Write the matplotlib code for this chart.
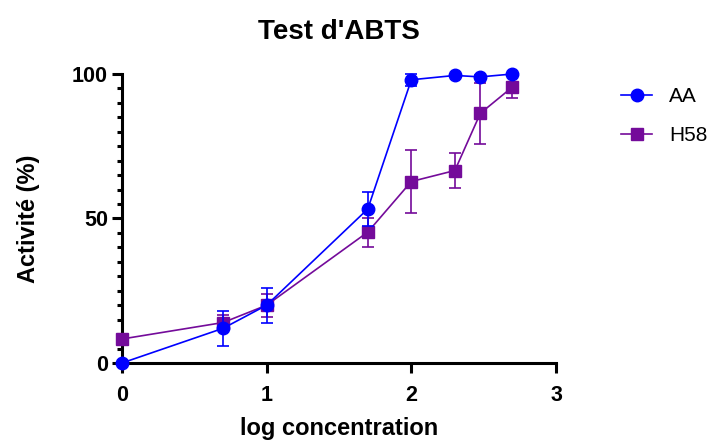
import matplotlib
matplotlib.use("Agg")
import matplotlib.pyplot as plt
from matplotlib.lines import Line2D
from matplotlib.ticker import MultipleLocator

plt.rcParams['font.family'] = ['Liberation Sans', 'DejaVu Sans']

# log10 of concentrations 1, 5, 10, 50, 100, 200, 300, 500
log_conc = [0.0, 0.699, 1.0, 1.699, 2.0, 2.301, 2.477, 2.699]

aa_mean = [0.0, 12.0, 20.0, 53.3, 98.0, 99.5, 99.0, 100.0]
aa_err = [0.0, 6.0, 6.0, 6.0, 2.0, 0.5, 0.5, 0.5]

h58_mean = [8.3, 14.0, 20.0, 45.3, 62.8, 66.6, 86.4, 95.5]
h58_err = [0.5, 2.5, 4.0, 5.0, 11.0, 6.0, 10.5, 3.8]

blue = '#0000ff'
purple = '#740b9a'

fig = plt.figure(figsize=(7.13, 4.41), dpi=100)
ax = fig.add_axes([0.1711, 0.1769, 0.6087, 0.6553])

ax.errorbar(log_conc, h58_mean, yerr=h58_err, color=purple, marker='s',
            markersize=8.5, linewidth=1.2, elinewidth=1.2, capsize=4.3,
            capthick=1.2, clip_on=False, zorder=3)
ax.errorbar(log_conc, aa_mean, yerr=aa_err, color=blue, marker='o',
            markersize=9, linewidth=1.2, elinewidth=1.2, capsize=4.3,
            capthick=1.2, clip_on=False, zorder=4)

ax.set_xlim(0, 3)
ax.set_ylim(0, 100)
ax.xaxis.set_major_locator(MultipleLocator(1))
ax.yaxis.set_major_locator(MultipleLocator(50))
ax.yaxis.set_minor_locator(MultipleLocator(5))

for s in ['top', 'right']:
    ax.spines[s].set_visible(False)
for s in ['left', 'bottom']:
    ax.spines[s].set_linewidth(2.2)
    ax.spines[s].set_capstyle('projecting')

ax.tick_params(axis='both', which='major', direction='out', length=7,
               width=2.2, labelsize=15.5)
ax.tick_params(axis='x', which='major', pad=9)
ax.tick_params(axis='y', which='major', pad=3)
ax.tick_params(axis='y', which='minor', direction='out', length=3.5, width=2.2)
for lbl in ax.get_xticklabels() + ax.get_yticklabels():
    lbl.set_fontweight('bold')

ax.set_xlabel('log concentration', fontsize=17, fontweight='bold', labelpad=7.5)
ax.set_ylabel('Activité (%)', fontsize=17, fontweight='bold', labelpad=23)
ax.set_title("Test d'ABTS", fontsize=20, fontweight='bold', pad=25)

handles = [
    Line2D([], [], color=blue, marker='o', markersize=9, linewidth=1.2),
    Line2D([], [], color=purple, marker='s', markersize=8.5, linewidth=1.2),
]
ax.legend(handles, ['AA', 'H58'], loc='upper left',
          bbox_to_anchor=(1.15, 0.955), frameon=False, fontsize=15,
          borderpad=0, borderaxespad=0, handlelength=1.5,
          labelspacing=0.95, handletextpad=0.8)

fig.savefig('out.png', dpi=100)
